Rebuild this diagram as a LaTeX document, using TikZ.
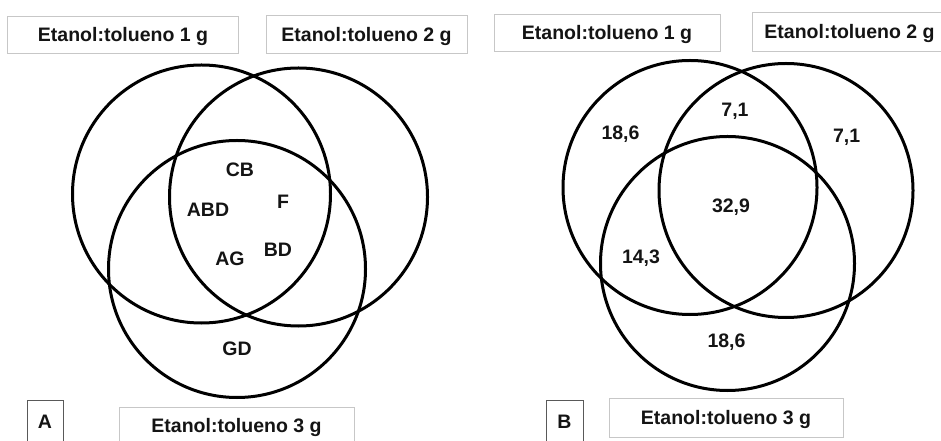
\documentclass[tikz,border=0pt]{standalone}
\usepackage{fontspec}
\setmainfont{Liberation Sans}
\begin{document}
\begin{tikzpicture}[x=1bp,y=-1bp,
  every node/.style={font=\fontsize{19.5bp}{22bp}\selectfont\bfseries, text=black!92},
  venn/.style={circle, draw=black, line width=3bp, inner sep=0pt, minimum size=#1},
  tbox/.style={draw=black!22, line width=1bp, inner sep=0pt, text height=15bp, text depth=2bp, fill=white},
  pbox/.style={draw=black!65, line width=1bp, inner sep=0pt, text height=15bp, text depth=2bp},
  lbl/.style={anchor=base, inner sep=0pt}]
\useasboundingbox (0,0) rectangle (941,441);
% ---------- Panel A ----------
\node[venn=258bp] (a1) at (201.5,194) {};
\node[venn=258bp] (a2) at (298.5,197) {};
\node[venn=257bp] (a3) at (237,269) {};
\node[tbox, minimum width=230bp, minimum height=37bp] (ta1) at (123,35.5) {Etanol:tolueno 1 g};
\node[tbox, minimum width=201bp, minimum height=38bp] (ta2) at (366.5,35) {Etanol:tolueno 2 g};
\node[tbox, minimum width=235bp, minimum height=35bp] (ta3) at (236.5,425.5) {Etanol:tolueno 3 g};
\node[pbox, minimum width=36bp, minimum height=41bp] (pa) at (45,421.5) {A};
\node[lbl] (cb) at (240,177) {CB};
\node[lbl] (abd) at (208,217) {ABD};
\node[lbl] (f) at (283,209) {F};
\node[lbl] (bd) at (278,257) {BD};
\node[lbl] (ag) at (230,266) {AG};
\node[lbl] (gd) at (237,356) {GD};
% ---------- Panel B ----------
\node[venn=254bp] (b1) at (690,187.5) {};
\node[venn=254bp] (b2) at (786,190.5) {};
\node[venn=254bp] (b3) at (727.5,263.5) {};
\node[tbox, minimum width=226bp, minimum height=37bp] (tb1) at (607,33.5) {Etanol:tolueno 1 g};
\node[tbox, minimum width=195bp, minimum height=39bp] (tb2) at (849.5,32.5) {Etanol:tolueno 2 g};
\node[tbox, minimum width=234bp, minimum height=38bp] (tb3) at (726,418) {Etanol:tolueno 3 g};
\node[pbox, minimum width=37bp, minimum height=41bp] (pb) at (564.5,421.5) {B};
\node[lbl] (v12) at (735,117) {7,1};
\node[lbl] (v1) at (620.5,140) {18,6};
\node[lbl] (v2) at (846.7,143) {7,1};
\node[lbl] (v123) at (731,213) {32,9};
\node[lbl] (v13) at (641,264) {14,3};
\node[lbl] (v3) at (726.5,348) {18,6};
\end{tikzpicture}
\end{document}
